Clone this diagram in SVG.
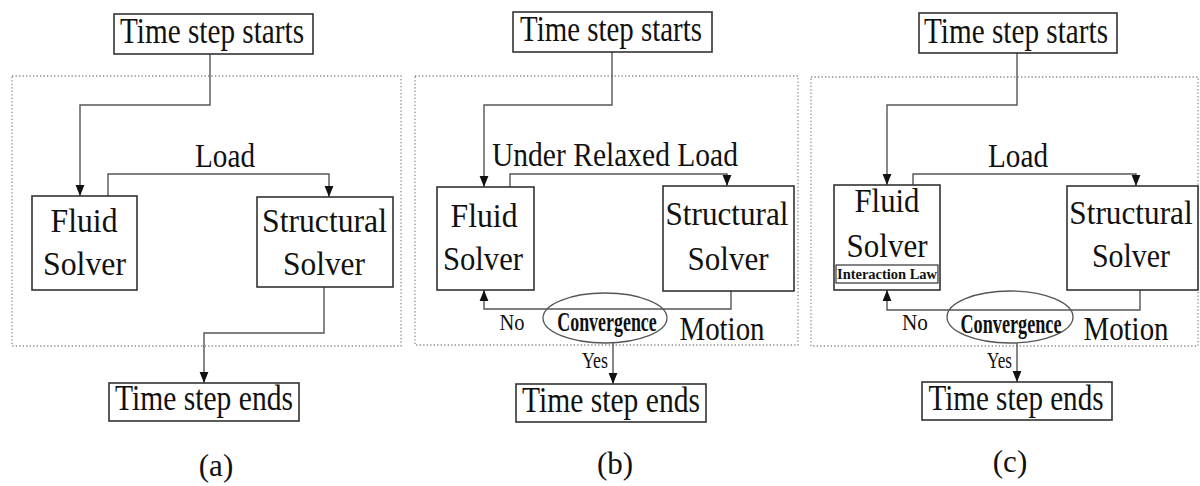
<svg xmlns="http://www.w3.org/2000/svg" width="1200" height="486" viewBox="0 0 1200 486">
<defs>
<marker id="arr" markerUnits="userSpaceOnUse" markerWidth="11" markerHeight="11" viewBox="0 0 10 10" refX="10" refY="5" orient="auto">
<path d="M0,1 L10,5 L0,9 Z" fill="#111"/>
</marker>
<style>
.box{fill:#fff;stroke:#333;stroke-width:1.6}
.frame{fill:none;stroke:#888;stroke-width:1.3;stroke-dasharray:1.3 2.2}
.ca{fill:none;stroke:#555;stroke-width:1.4;marker-end:url(#arr)}
.ell{fill:none;stroke:#555;stroke-width:1.3}
text{font-family:"Liberation Serif","Times New Roman",serif;fill:#111;text-anchor:middle}
.t{font-size:36px}
.m{font-size:34px}
.s{font-size:24px}
.b{font-size:28px;font-weight:bold}
.il{font-size:14px;font-weight:bold}
.cap{font-size:31px}
</style>
</defs>
<rect class="frame" x="12" y="76" width="389" height="270"/>
<rect class="frame" x="415" y="76" width="383" height="269"/>
<rect class="frame" x="811" y="77" width="387" height="269"/>
<g id="connectors">
<path class="ca" d="M210,54 V105 H80 V196"/>
<path class="ca" d="M108,196 V174 H329 V197"/>
<path class="ca" d="M324,287 V333 H204 V383"/>
<path class="ca" d="M612,52 V105 H484 V187"/>
<path class="ca" d="M510,187 V174 H727 V186"/>
<path class="ca" d="M731,291 V309 H484 V290"/>
<path class="ca" d="M613,343 V384"/>
<path class="ca" d="M1017,53 V105 H887 V185"/>
<path class="ca" d="M913,185 V174 H1136 V186"/>
<path class="ca" d="M1140,290 V310 H887 V290"/>
<path class="ca" d="M1017,343 V382"/>
<text class="m" x="225" y="167" textLength="60" lengthAdjust="spacingAndGlyphs">Load</text>
<text class="m" x="615" y="166" textLength="246" lengthAdjust="spacingAndGlyphs">Under Relaxed Load</text>
<text class="m" x="1018" y="167" textLength="60" lengthAdjust="spacingAndGlyphs">Load</text>
<text class="m" transform="translate(722,340) scale(0.85,1)">Motion</text>
<text class="m" transform="translate(1126,340) scale(0.85,1)">Motion</text>
<text class="s" x="512" y="330" textLength="25" lengthAdjust="spacingAndGlyphs">No</text>
<text class="s" x="915" y="330" textLength="26" lengthAdjust="spacingAndGlyphs">No</text>
<text class="s" x="595" y="368" textLength="26" lengthAdjust="spacingAndGlyphs">Yes</text>
<text class="s" x="999.5" y="368" textLength="25" lengthAdjust="spacingAndGlyphs">Yes</text>
</g>
<g id="a-start"><rect class="box" x="114" y="14" width="199" height="40"/><text class="t" x="212" y="43" textLength="184" lengthAdjust="spacingAndGlyphs">Time step starts</text></g>
<g id="a-fluid"><rect class="box" x="32" y="196" width="105" height="94"/><text class="m" x="84" y="232" textLength="67" lengthAdjust="spacingAndGlyphs">Fluid</text><text class="m" x="84.5" y="275" textLength="83" lengthAdjust="spacingAndGlyphs">Solver</text></g>
<g id="a-struct"><rect class="box" x="257" y="197" width="136" height="90"/><text class="m" x="324.5" y="232" textLength="125" lengthAdjust="spacingAndGlyphs">Structural</text><text class="m" x="324" y="275" textLength="82" lengthAdjust="spacingAndGlyphs">Solver</text></g>
<g id="a-end"><rect class="box" x="109" y="383" width="190" height="38"/><text class="t" x="204" y="410" textLength="178" lengthAdjust="spacingAndGlyphs">Time step ends</text></g>
<text class="cap" x="216" y="476">(a)</text>
<g id="b-start"><rect class="box" x="513" y="12" width="199" height="40"/><text class="t" x="611" y="41" textLength="182" lengthAdjust="spacingAndGlyphs">Time step starts</text></g>
<g id="b-fluid"><rect class="box" x="437" y="187" width="97" height="103"/><text class="m" x="484" y="227" textLength="67" lengthAdjust="spacingAndGlyphs">Fluid</text><text class="m" x="483" y="270" textLength="80" lengthAdjust="spacingAndGlyphs">Solver</text></g>
<g id="b-struct"><rect class="box" x="663" y="186" width="131" height="105"/><text class="m" x="727" y="225" textLength="123" lengthAdjust="spacingAndGlyphs">Structural</text><text class="m" x="728" y="270" textLength="81" lengthAdjust="spacingAndGlyphs">Solver</text></g>
<g id="b-conv"><ellipse class="ell" cx="605" cy="318" rx="62" ry="25"/><text class="b" transform="translate(607,331) scale(0.64,1)">Convergence</text></g>
<g id="b-end"><rect class="box" x="516" y="384" width="190" height="38"/><text class="t" x="611" y="412" textLength="178" lengthAdjust="spacingAndGlyphs">Time step ends</text></g>
<text class="cap" x="615" y="474">(b)</text>
<g id="c-start"><rect class="box" x="919" y="13" width="198" height="40"/><text class="t" x="1016" y="43" textLength="184" lengthAdjust="spacingAndGlyphs">Time step starts</text></g>
<g id="c-fluid"><rect class="box" x="834" y="185" width="106" height="105"/><text class="m" x="887" y="212" textLength="65" lengthAdjust="spacingAndGlyphs">Fluid</text><text class="m" x="887" y="257" textLength="81" lengthAdjust="spacingAndGlyphs">Solver</text><rect class="box" x="836" y="265" width="102" height="18" style="stroke-width:1.2"/><text class="il" x="887" y="279" textLength="100" lengthAdjust="spacingAndGlyphs">Interaction Law</text></g>
<g id="c-struct"><rect class="box" x="1067" y="186" width="131" height="104"/><text class="m" transform="translate(1131,224) scale(0.92,1)">Structural</text><text class="m" x="1131" y="267" textLength="78" lengthAdjust="spacingAndGlyphs">Solver</text></g>
<g id="c-conv"><ellipse class="ell" cx="1010" cy="317" rx="63" ry="26"/><text class="b" transform="translate(1011,333) scale(0.65,1)">Convergence</text></g>
<g id="c-end"><rect class="box" x="922" y="382" width="190" height="38"/><text class="t" x="1016" y="410" textLength="175" lengthAdjust="spacingAndGlyphs">Time step ends</text></g>
<text class="cap" x="1010" y="472">(c)</text>
</svg>
